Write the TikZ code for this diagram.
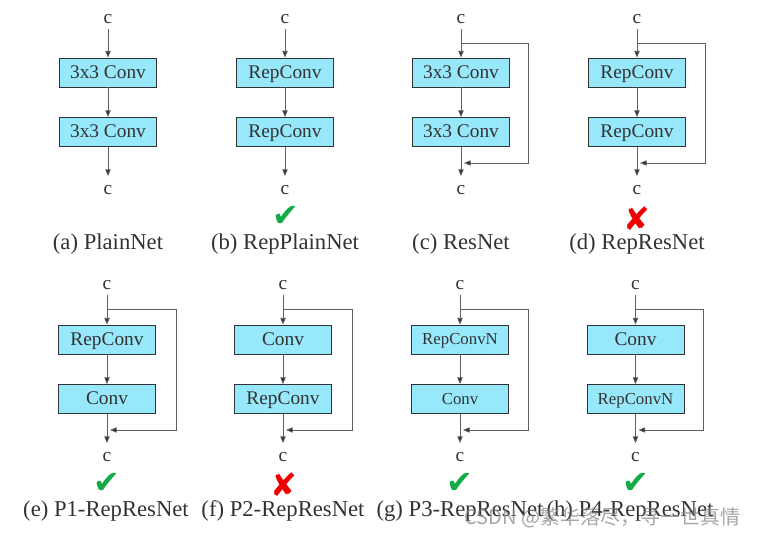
\documentclass[tikz,border=0pt]{standalone}
\usepackage{fontspec}
\setmainfont{Liberation Serif}
\newfontfamily\symfont{DejaVu Sans}
\newfontfamily\cjkfont{Noto Sans CJK SC}
\usetikzlibrary{arrows.meta}
\usepackage{xcolor}
\definecolor{convblue}{RGB}{152,232,252}
\definecolor{linegray}{RGB}{95,95,95}
\definecolor{textgray}{RGB}{50,50,50}
\definecolor{okgreen}{RGB}{20,170,70}
\definecolor{badred}{RGB}{240,0,0}

\tikzset{
  conv/.style={draw=textgray, line width=0.6pt, fill=convblue, minimum width=72.75pt, minimum height=21.75pt,
    inner sep=0pt, text height=9.6pt, text depth=1pt, text=textgray,
    font=\fontsize{14.5}{16}\selectfont},
  convn/.style={conv, text height=8.4pt, text depth=0.8pt, font=\fontsize{12.6}{14}\selectfont},
  chan/.style={inner sep=3.75pt, text=textgray, font=\fontsize{14.5}{16}\selectfont},
  flow/.style={draw=linegray, line width=0.6pt, -{Triangle[length=5pt,width=4pt,fill=textgray]}},
  caption/.style={text=textgray, font=\fontsize{17}{20}\selectfont},
  good/.style={text=okgreen, inner sep=0pt, font=\symfont\fontsize{24}{26}\selectfont},
  bad/.style={text=badred, inner sep=0pt, font=\symfont\fontsize{24}{26}\selectfont},
}

\begin{document}
\begin{tikzpicture}[x=0.75pt, y=-0.75pt]
    \useasboundingbox (0,0) rectangle (758,538);

    % (a) PlainNet
    \node[chan] (inA) at (108,19) {c};
    \node[conv] (convA1) at (108,72.5) {3x3 Conv};
    \node[conv] (convA2) at (108,132) {3x3 Conv};
    \node[chan] (outA) at (108,190) {c};
    \draw[flow] (inA) -- (convA1);
    \draw[flow] (convA1) -- (convA2);
    \draw[flow, shorten >=3pt] (convA2) -- (outA);
    \node[caption] (capA) at (108,244) {(a) PlainNet};

    % (b) RepPlainNet
    \node[chan] (inB) at (285,19) {c};
    \node[conv] (convB1) at (285,72.5) {RepConv};
    \node[conv] (convB2) at (285,132) {RepConv};
    \node[chan] (outB) at (285,190) {c};
    \draw[flow] (inB) -- (convB1);
    \draw[flow] (convB1) -- (convB2);
    \draw[flow, shorten >=3pt] (convB2) -- (outB);
    \node[good] (markB) at (286,216) {✔};
    \node[caption] (capB) at (285,244) {(b) RepPlainNet};

    % (c) ResNet
    \node[chan] (inC) at (461,19) {c};
    \node[conv] (convC1) at (461,72.5) {3x3 Conv};
    \node[conv] (convC2) at (461,132) {3x3 Conv};
    \node[chan] (outC) at (461,190) {c};
    \draw[flow] (inC) -- (convC1);
    \draw[flow] (convC1) -- (convC2);
    \draw[flow, shorten >=3pt] (convC2) -- (outC);
    \coordinate (splitC) at (461,43);
    \coordinate (cornerC) at (528,43);
    \coordinate (joinC) at (464,163);
    \draw[flow] (splitC) -- (cornerC) |- (joinC);
    \node[caption] (capC) at (461,244) {(c) ResNet};

    % (d) RepResNet
    \node[chan] (inD) at (637,19) {c};
    \node[conv] (convD1) at (637,72.5) {RepConv};
    \node[conv] (convD2) at (637,132) {RepConv};
    \node[chan] (outD) at (637,190) {c};
    \draw[flow] (inD) -- (convD1);
    \draw[flow] (convD1) -- (convD2);
    \draw[flow, shorten >=3pt] (convD2) -- (outD);
    \coordinate (splitD) at (637,43);
    \coordinate (cornerD) at (705,43);
    \coordinate (joinD) at (640,163);
    \draw[flow] (splitD) -- (cornerD) |- (joinD);
    \node[bad] (markD) at (637,219) {✘};
    \node[caption] (capD) at (637,244) {(d) RepResNet};

    % (e) P1-RepResNet
    \node[chan] (inE) at (107,285) {c};
    \node[conv] (convE1) at (107,339.5) {RepConv};
    \node[conv] (convE2) at (107,399) {Conv};
    \node[chan] (outE) at (107,457) {c};
    \draw[flow] (inE) -- (convE1);
    \draw[flow] (convE1) -- (convE2);
    \draw[flow, shorten >=3pt] (convE2) -- (outE);
    \coordinate (splitE) at (107,309);
    \coordinate (cornerE) at (176,309);
    \coordinate (joinE) at (110,430);
    \draw[flow] (splitE) -- (cornerE) |- (joinE);
    \node[good] (markE) at (107,483) {✔};
    \node[caption] (capE) at (106,511) {(e) P1-RepResNet};

    % (f) P2-RepResNet
    \node[chan] (inF) at (283,285) {c};
    \node[conv] (convF1) at (283,339.5) {Conv};
    \node[conv] (convF2) at (283,399) {RepConv};
    \node[chan] (outF) at (283,457) {c};
    \draw[flow] (inF) -- (convF1);
    \draw[flow] (convF1) -- (convF2);
    \draw[flow, shorten >=3pt] (convF2) -- (outF);
    \coordinate (splitF) at (283,309);
    \coordinate (cornerF) at (352,309);
    \coordinate (joinF) at (286,430);
    \draw[flow] (splitF) -- (cornerF) |- (joinF);
    \node[bad] (markF) at (284,485) {✘};
    \node[caption] (capF) at (283,511) {(f) P2-RepResNet};

    % (g) P3-RepResNet
    \node[chan] (inG) at (460,285) {c};
    \node[convn] (convG1) at (460,339.5) {RepConvN};
    \node[convn] (convG2) at (460,399) {Conv};
    \node[chan] (outG) at (460,457) {c};
    \draw[flow] (inG) -- (convG1);
    \draw[flow] (convG1) -- (convG2);
    \draw[flow, shorten >=3pt] (convG2) -- (outG);
    \coordinate (splitG) at (460,309);
    \coordinate (cornerG) at (528,309);
    \coordinate (joinG) at (463,430);
    \draw[flow] (splitG) -- (cornerG) |- (joinG);
    \node[good] (markG) at (460,483) {✔};
    \node[caption] (capG) at (460,511) {(g) P3-RepResNet};

    % (h) P4-RepResNet
    \node[chan] (inH) at (635.5,285) {c};
    \node[conv] (convH1) at (635.5,339.5) {Conv};
    \node[convn] (convH2) at (635.5,399) {RepConvN};
    \node[chan] (outH) at (635.5,457) {c};
    \draw[flow] (inH) -- (convH1);
    \draw[flow] (convH1) -- (convH2);
    \draw[flow, shorten >=3pt] (convH2) -- (outH);
    \coordinate (splitH) at (635.5,309);
    \coordinate (cornerH) at (703,309);
    \coordinate (joinH) at (638.5,430);
    \draw[flow] (splitH) -- (cornerH) |- (joinH);
    \node[good] (markH) at (635.5,483) {✔};
    \node[caption] (capH) at (630,511) {(h) P4-RepResNet};

    % watermark
    \node[anchor=east, text=gray, opacity=0.7, font=\cjkfont\fontsize{15}{18}\selectfont] (mark) at (745,518) {CSDN @繁华落尽，寻一世真情};
\end{tikzpicture}
\end{document}
